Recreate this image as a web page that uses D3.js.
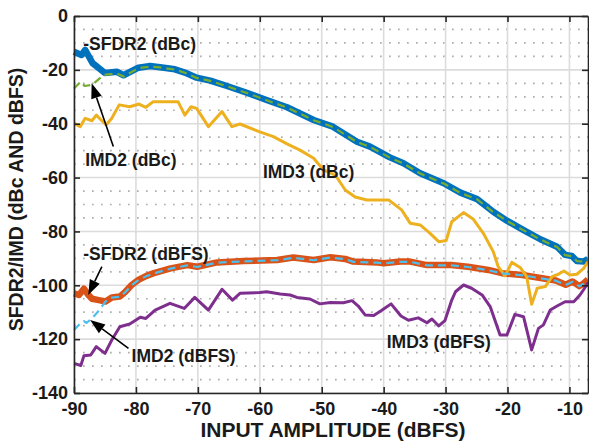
<!DOCTYPE html>
<html>
<head>
<meta charset="utf-8">
<script src="https://cdn.jsdelivr.net/npm/d3@7"></script>
<style>
  html, body { margin: 0; padding: 0; background: #fff; }
  svg { display: block; }
  text { font-family: "Liberation Sans", Arial, Helvetica, sans-serif; font-weight: bold; fill: #1a1a1a; }
</style>
</head>
<body>
<svg id="chart" width="589" height="441"></svg>
<script>
// Input amplitude (dBFS) and measured levels for each trace
const sfdr2DbcX = [-90, -88.8, -88.2, -87, -85, -83.1, -82, -79.6, -77.7, -76.1, -73.7, -72.1, -70.2, -68, -65.3, -62.1, -58.9, -55.6, -51.3, -48.2, -44.3, -42.2, -39, -36.8, -34.1, -30.3, -27.6, -24.9, -22.3, -20.1, -17.4, -14.7, -12, -10.7, -9.6, -8.8, -7.7, -7];
const sfdr2DbcY = [-13.3, -14.5, -12.6, -17.5, -21.2, -20.7, -22, -19.2, -18.6, -19, -19.8, -21, -22.9, -24, -26, -28.5, -31.2, -33.9, -38.6, -41.1, -46.7, -48.5, -52.5, -54.7, -58.4, -62.1, -65.6, -68, -72.7, -76, -79.5, -82.9, -85.7, -88.7, -89.1, -91, -91.2, -90.2];

const imd2DbcX = [-90, -88.9, -88.3, -87.1, -85.2, -83.1, -82, -79.6, -77.7, -76.1, -73.7, -72.1, -70.2, -68, -65.3, -62.1, -58.9, -55.6, -51.3, -48.2, -44.3, -42.2, -39, -36.8, -34.1, -30.3, -27.6, -24.9, -22.3, -20.1, -17.4, -14.7, -12, -10.7, -9.6, -8.8, -7.7, -7];
const imd2DbcY = [-26.9, -24.4, -26, -25.6, -21.9, -21.3, -22.5, -19.4, -18.8, -19.1, -19.9, -21.1, -23, -24.1, -26.1, -28.6, -31.3, -34, -38.7, -41.2, -46.8, -48.6, -52.6, -54.8, -58.5, -62.2, -65.7, -68.1, -72.8, -76.1, -79.6, -83, -85.8, -88.8, -89.2, -91, -91.2, -90.3];

const imd3DbcX = [-90, -89, -88.2, -87.1, -86.4, -84.8, -83.9, -82.7, -81, -79.5, -78.4, -77.2, -73.2, -72.1, -71.1, -70.2, -68.3, -66.1, -64.5, -63.2, -60, -57.8, -55.6, -53.5, -51.3, -49.7, -48.6, -47.7, -46.2, -44.6, -42.7, -39.2, -37.1, -35.7, -34.1, -32.5, -31.1, -29.9, -29, -27.1, -25.5, -23.9, -22.3, -21.5, -20.4, -19.3, -17.9, -16.9, -16.1, -15.2, -13.9, -12.8, -11.8, -10.9, -9.9, -8.8, -7.7, -7];
const imd3DbcY = [-39.8, -41.1, -38, -38.9, -36.8, -40.5, -38, -33, -33.7, -32.7, -33.9, -31.8, -31.8, -36.8, -33.7, -34.3, -41.1, -35.5, -41.1, -40.1, -43, -44.8, -47.5, -49.8, -52.8, -57.2, -58.2, -59.4, -64.6, -67.2, -68.3, -68.3, -72, -77, -77.6, -80.7, -83.8, -83.4, -76.4, -73, -75.5, -80.7, -87.5, -93.1, -96.5, -91.5, -93.5, -96.8, -107, -101.1, -100.5, -96.8, -95.9, -94.7, -96.2, -95.9, -93.7, -91.2];

const sfdr2DbfsX = [-90, -89.2, -88.4, -87.7, -87.1, -86, -84.9, -83.9, -82.6, -81.7, -80.7, -79.6, -78.3, -77.1, -74.4, -71.7, -70.1, -66.9, -62.6, -57.2, -54.6, -51.3, -48.6, -46.2, -44.9, -41.1, -40, -37.3, -35.7, -33, -29.1, -26.4, -23.1, -20.9, -17.6, -14.9, -12.2, -10.6, -9.5, -8.4, -7.7, -7];
const sfdr2DbfsY = [-103, -103.6, -101.3, -103.5, -105, -105.5, -106, -104.5, -104.2, -102.4, -99.9, -98, -96.5, -95.5, -93.7, -92.5, -93.1, -91.5, -91, -90.6, -89.7, -90.6, -89.6, -90.2, -91.2, -91.5, -91.8, -91.2, -91.2, -92.5, -92.5, -93.1, -94.3, -95.5, -96.2, -97.2, -98.2, -99.8, -98.6, -100.3, -99.3, -97.8];

const imd2DbfsX = [-90, -89, -88.4, -88, -87.1, -86, -84.9, -83.9, -82.6, -81.7, -80.7, -79.6, -78.3, -77.1, -74.4, -71.7, -70.1, -66.9, -62.6, -57.2, -54.6, -51.3, -48.6, -46.2, -44.9, -41.1, -40, -37.3, -35.7, -33, -29.1, -26.4, -23.1, -20.9, -17.6, -14.9, -12.2, -10.6, -9.5, -8.4, -7.7, -7];
const imd2DbfsY = [-116.6, -114.2, -113.3, -114, -112.3, -109.4, -106, -104.6, -104.3, -102.5, -100, -98.1, -96.6, -95.6, -93.8, -92.6, -93.2, -91.6, -91.1, -90.7, -89.8, -90.7, -89.7, -90.3, -91.3, -91.6, -91.9, -91.3, -91.3, -92.6, -92.6, -93.2, -94.4, -95.6, -96.3, -97.3, -98.3, -99.9, -98.7, -100.4, -99.4, -97.9];

const imd3DbfsX = [-90, -88.9, -88.4, -87.3, -86.4, -85, -83.9, -82.6, -81, -79.3, -78.4, -76.9, -74.5, -72.2, -70.5, -68.3, -66.1, -64.4, -63.2, -60, -58.9, -56.7, -55.1, -54, -51.9, -50.3, -48.6, -46.5, -45.1, -44.1, -43, -41.6, -40.3, -38.8, -37.2, -36, -34.4, -33, -32.2, -31.1, -30.1, -29, -28.4, -27.1, -25.8, -24.1, -22.8, -21.2, -20.1, -18.8, -17.4, -16.1, -15, -14.2, -13.1, -12, -10.7, -9.3, -8.3, -7.2, -7];
const imd3DbfsY = [-129, -129.8, -126.2, -125.9, -122.8, -125.3, -120.3, -115.4, -114.4, -111.9, -112.3, -109.2, -106.7, -108.6, -104.5, -109.2, -101.5, -105.5, -103, -102.7, -102.4, -103.2, -103.6, -104.5, -105.1, -106.9, -106.4, -106.5, -105.7, -107.7, -111, -111.2, -109.3, -106.9, -111.4, -113, -112.1, -113.9, -112.5, -115.1, -113.1, -105.5, -102.4, -99.9, -101.1, -103.6, -107.9, -118.5, -118.5, -110.8, -111.7, -124, -116, -114.7, -109.2, -107.7, -106.1, -106.1, -103.6, -99.9, -99];

const xTicks = [-90, -80, -70, -60, -50, -40, -30, -20, -10];
const yTicks = [-140, -120, -100, -80, -60, -40, -20, 0];
const yMinorTicks = d3.range(-135, 0, 5).filter(v => v % 20 !== 0);

const xLabel = "INPUT AMPLITUDE (dBFS)";
const yLabel = "SFDR2/IMD (dBc AND dBFS)";

// Text callouts: label, anchor point (data units)
const callouts = [
  { text: "-SFDR2 (dBc)", x: -88.5, y: -12.6 },
  { text: "IMD2 (dBc)", x: -88.2, y: -55.6 },
  { text: "IMD3 (dBc)", x: -59.5, y: -60.0 },
  { text: "-SFDR2 (dBFS)", x: -88.5, y: -90.6 },
  { text: "IMD2 (dBFS)", x: -80.7, y: -128.4 },
  { text: "IMD3 (dBFS)", x: -39.5, y: -123.3 }
];
// Arrows: tail -> head (data units)
const arrows = [
  { x1: -83.65, y1: -48.5, x2: -87.15, y2: -25.0 },
  { x1: -85.5, y1: -93.1, x2: -87.7, y2: -103.6 },
  { x1: -81.2, y1: -123.4, x2: -87.4, y2: -112.9 }
];

const svg = d3.select("#chart");
const x = d3.scaleLinear().domain([-90, -7]).range([74, 588]);
const y = d3.scaleLinear().domain([-140, 0]).range([393, 16]);
const [x0, x1] = x.range();
const [yB, yT] = y.range();

// grid: dotted minor rows, solid major lines
const grid = svg.append("g");
grid.selectAll(".minor").data(yMinorTicks).join("line")
  .attr("x1", x0).attr("x2", x1)
  .attr("y1", d => y(d)).attr("y2", d => y(d))
  .attr("stroke", "#aeaeae").attr("stroke-width", 1.7)
  .attr("stroke-dasharray", "1.7,7.3");
grid.selectAll(".hmaj").data(yTicks).join("line")
  .attr("x1", x0).attr("x2", x1)
  .attr("y1", d => y(d)).attr("y2", d => y(d))
  .attr("stroke", "#dcdcdc").attr("stroke-width", 1.6);
grid.selectAll(".vmaj").data(xTicks).join("line")
  .attr("x1", d => x(d)).attr("x2", d => x(d))
  .attr("y1", yT).attr("y2", yB)
  .attr("stroke", "#dcdcdc").attr("stroke-width", 1.6);

// traces
const line = d3.line().x(d => x(d[0])).y(d => y(d[1]));
const zip = (xs, ys) => xs.map((v, i) => [v, ys[i]]);
const traces = [
  { data: zip(sfdr2DbcX, sfdr2DbcY), color: "#0072BD", width: 6.5 },
  { data: zip(sfdr2DbfsX, sfdr2DbfsY), color: "#D95319", width: 6.5 },
  { data: zip(imd3DbcX, imd3DbcY), color: "#EDB120", width: 3 },
  { data: zip(imd3DbfsX, imd3DbfsY), color: "#7E2F8E", width: 3 },
  { data: zip(imd2DbcX, imd2DbcY), color: "#77AC30", width: 2.2, dash: "8,5" },
  { data: zip(imd2DbfsX, imd2DbfsY), color: "#4DBEEE", width: 2.2, dash: "8,5" }
];
svg.append("g").selectAll("path").data(traces).join("path")
  .attr("d", d => line(d.data))
  .attr("fill", "none")
  .attr("stroke", d => d.color)
  .attr("stroke-width", d => d.width)
  .attr("stroke-linejoin", "round")
  .attr("stroke-dasharray", d => d.dash || null);

// axes box with inward ticks on all sides
const fmt = d => String(d);
const axB = svg.append("g").attr("transform", `translate(0,${yB})`)
  .call(d3.axisBottom(x).tickValues(xTicks).tickFormat(fmt).tickSizeInner(-6).tickSizeOuter(0).tickPadding(9));
const axT = svg.append("g").attr("transform", `translate(0,${yT})`)
  .call(d3.axisTop(x).tickValues(xTicks).tickFormat("").tickSizeInner(-6).tickSizeOuter(0));
const axL = svg.append("g").attr("transform", `translate(${x0},0)`)
  .call(d3.axisLeft(y).tickValues(yTicks).tickFormat(fmt).tickSizeInner(-6).tickSizeOuter(0).tickPadding(6));
const axR = svg.append("g").attr("transform", `translate(${x1},0)`)
  .call(d3.axisRight(y).tickValues(yTicks).tickFormat("").tickSizeInner(-6).tickSizeOuter(0));
[axB, axT, axL, axR].forEach(a => {
  a.select(".domain").attr("stroke", "#262626").attr("stroke-width", 1.6);
  a.selectAll(".tick line").attr("stroke", "#262626").attr("stroke-width", 1.6);
  a.selectAll("text").attr("font-size", 18).attr("font-family", null).attr("fill", "#1a1a1a");
});

// axis titles
svg.append("text").attr("x", (x0 + x1) / 2 + 2).attr("y", 437)
  .attr("text-anchor", "middle").attr("font-size", 21).text(xLabel);
svg.append("text").attr("transform", `translate(23,${(yT + yB) / 2 - 5}) rotate(-90)`)
  .attr("text-anchor", "middle").attr("font-size", 19.5).text(yLabel);

// callout labels
svg.append("g").selectAll("text").data(callouts).join("text")
  .attr("x", d => x(d.x)).attr("y", d => y(d.y))
  .attr("font-size", 17.5).text(d => d.text);

// arrows
const ag = svg.append("g");
arrows.forEach(a => {
  const px1 = x(a.x1), py1 = y(a.y1), px2 = x(a.x2), py2 = y(a.y2);
  const ang = Math.atan2(py2 - py1, px2 - px1);
  const L = 15, W = 5.5;
  const bx = px2 - L * Math.cos(ang), by = py2 - L * Math.sin(ang);
  ag.append("line").attr("x1", px1).attr("y1", py1).attr("x2", bx).attr("y2", by)
    .attr("stroke", "#000").attr("stroke-width", 1.6);
  ag.append("path")
    .attr("d", `M${px2},${py2}L${bx + W * Math.sin(ang)},${by - W * Math.cos(ang)}L${bx - W * Math.sin(ang)},${by + W * Math.cos(ang)}Z`)
    .attr("fill", "#000");
});
</script>
</body>
</html>
